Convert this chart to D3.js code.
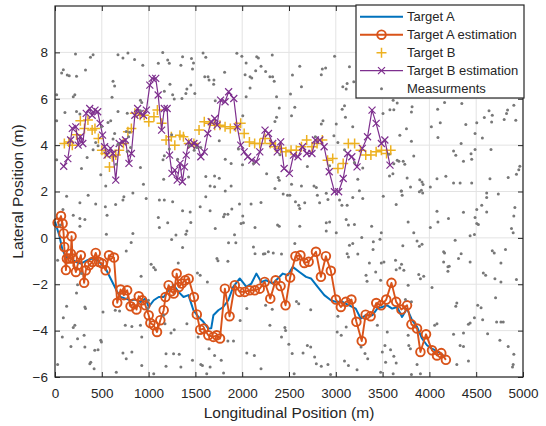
<!DOCTYPE html>
<html>
<head>
<meta charset="utf-8">
<script src="https://cdn.jsdelivr.net/npm/d3@7"></script>
<style>
body { margin: 0; background: #fff; }
text { font-family: "Liberation Sans", Arial, Helvetica, sans-serif; fill: #262626; }
</style>
</head>
<body>
<div id="chart"></div>
<script>
// chart values
var xTicks = [0, 500, 1000, 1500, 2000, 2500, 3000, 3500, 4000, 4500, 5000];
var yTicks = [-6, -4, -2, 0, 2, 4, 6, 8];
var seriesNames = ["Target A", "Target A estimation", "Target B", "Target B estimation", "Measurments"];

var targetA = [[0,0.7],[46,0.1],[81,-0.53],[117,-0.82],[170,-0.89],[223,-1.04],[276,-1.11],[347,-0.96],[400,-0.89],
  [453,-0.96],[506,-1.18],[541,-1.32],[595,-1.76],[630,-2.04],[665,-2.33],[701,-2.55],[754,-2.62],[807,-2.69],
  [860,-2.66],[913,-2.76],[966,-2.62],[1001,-2.98],[1055,-2.69],[1108,-2.55],[1161,-2.55],[1214,-2.26],[1267,-2.04],
  [1320,-2.33],[1373,-2.55],[1426,-2.47],[1479,-3.12],[1532,-3.41],[1585,-3.62],[1638,-3.91],[1669,-3.9],[1692,-3.34],
  [1745,-3.12],[1798,-2.98],[1851,-2.69],[1904,-2.11],[1974,-1.75],[2045,-2.11],[2098,-1.97],[2151,-1.54],[2204,-1.90],
  [2257,-1.83],[2328,-1.97],[2381,-1.75],[2434,-1.54],[2487,-1.61],[2540,-1.25],[2611,-1.47],[2682,-1.68],[2735,-1.75],
  [2806,-2.11],[2877,-2.47],[2948,-2.69],[3001,-2.76],[3071,-2.76],[3142,-2.91],[3213,-3.05],[3266,-3.48],[3319,-3.34],
  [3390,-3.34],[3443,-3.05],[3496,-2.98],[3549,-2.91],[3602,-3.05],[3655,-2.98],[3708,-3.41],[3761,-3.05],[3815,-3.55],
  [3868,-3.84],[3921,-4.34],[3974,-4.63],[4027,-4.78],[4098,-4.92],[4169,-5.14]];

var targetAEst = [[28,0.65],[64,0.94],[81,0.62],[92,0.19],[99,-0.39],[117,-1.39],[127,-0.89],[152,-0.89],[170,-0.68],
  [177,0.07],[188,-0.89],[223,-1.47],[241,-1.18],[276,-0.75],[311,-1.94],[329,-1.40],[364,-1.18],[400,-1.04],[435,-0.65],
  [471,-1.04],[506,-1.11],[541,-1.40],[577,-0.75],[630,-0.85],[665,-2.80],[701,-2.23],[736,-2.47],[771,-2.26],[807,-2.95],
  [842,-2.83],[871,-3.09],[895,-2.52],[931,-2.69],[966,-2.91],[1001,-3.34],[1019,-3.67],[1055,-3.77],[1090,-4.06],
  [1125,-3.55],[1161,-3.12],[1180,-2.55],[1214,-2.04],[1243,-2.30],[1269,-2.40],[1300,-1.54],[1324,-2.12],[1354,-1.97],
  [1391,-1.83],[1428,-1.76],[1484,-2.55],[1515,-3.30],[1551,-3.96],[1590,-3.91],[1638,-4.20],[1692,-4.27],[1727,-4.20],
  [1763,-4.34],[1815,-2.19],[1865,-3.38],[1921,-2.04],[1974,-2.33],[2027,-2.33],[2080,-2.26],[2134,-2.26],[2187,-2.19],
  [2240,-1.90],[2300,-2.62],[2357,-1.83],[2410,-2.08],[2463,-2.91],[2512,-1.71],[2569,-0.79],[2622,-0.75],[2664,-1.08],
  [2710,-1.03],[2788,-0.60],[2841,-1.68],[2894,-0.79],[2947,-1.42],[3001,-2.66],[3054,-2.98],[3107,-2.76],[3167,-2.66],
  [3220,-3.62],[3277,-4.45],[3319,-3.31],[3372,-3.38],[3432,-2.81],[3485,-2.91],[3539,-2.66],[3595,-1.94],[3645,-2.76],
  [3701,-3.09],[3761,-2.91],[3808,-3.73],[3868,-3.91],[3904,-4.92],[3964,-4.16],[4028,-4.85],[4081,-5.07],[4127,-4.97],
  [4176,-5.26]];

var targetB = [[100,4.07],[148,4.14],[185,4.0],[230,4.45],[271,5.05],[315,4.72],[352,5.08],[397,4.65],[427,4.72],[464,4.29],
  [501,3.78],[538,3.64],[582,3.06],[612,3.50],[649,3.57],[686,3.78],[731,4.07],[779,4.58],[816,4.72],[853,5.37],[909,5.29],
  [953,5.29],[1002,5.01],[1057,5.22],[1094,5.51],[1139,4.94],[1187,4.22],[1243,4.36],[1280,4.00],[1335,4.43],[1372,4.36],
  [1428,4.07],[1484,4.07],[1539,4.65],[1595,5.01],[1651,4.94],[1706,4.86],[1762,4.86],[1817,4.79],[1873,4.72],[1929,4.79],
  [1984,4.94],[2021,4.50],[2077,4.14],[2133,4.07],[2188,4.07],[2244,4.29],[2300,4.07],[2355,3.93],[2411,3.86],[2467,3.71],
  [2522,3.78],[2578,3.78],[2633,3.93],[2689,4.22],[2745,3.93],[2800,4.07],[2856,4.22],[2912,3.35],[2967,3.42],[3023,2.99],
  [3079,3.21],[3134,4.07],[3201,4.07],[3264,3.78],[3320,3.57],[3375,3.57],[3431,3.71],[3487,3.78],[3542,3.64],[3587,3.78]];

var targetBEst = [[93,3.09],[137,3.42],[167,4.22],[185,4.72],[222,4.79],[248,4.0],[271,4.36],[297,4.07],[334,5.37],[371,5.58],
  [397,5.29],[427,5.51],[456,5.44],[482,4.94],[508,4.43],[530,3.93],[556,3.57],[593,3.86],[619,3.64],[649,2.49],[686,4.07],
  [723,4.14],[753,4.22],[790,3.21],[816,3.64],[853,5.29],[883,5.58],[909,5.37],[946,5.29],[976,5.51],[1013,6.59],[1039,6.88],
  [1076,6.88],[1102,6.16],[1139,4.65],[1168,5.58],[1198,5.58],[1224,3.57],[1250,2.78],[1280,2.92],[1306,2.49],[1335,3.21],
  [1361,2.42],[1383,3.06],[1402,3.57],[1428,4.14],[1458,4.00],[1484,4.07],[1521,4.00],[1558,3.50],[1595,3.71],[1632,4.50],
  [1669,5.01],[1706,5.15],[1732,4.86],[1769,5.94],[1817,5.87],[1855,6.30],[1910,6.01],[1947,4.79],[1984,4.00],[2021,3.71],
  [2059,3.50],[2103,3.35],[2151,3.28],[2188,3.71],[2244,4.65],[2281,4.50],[2326,4.07],[2374,3.71],[2411,4.14],[2448,2.99],
  [2504,2.78],[2548,3.57],[2596,3.50],[2645,3.93],[2689,3.64],[2745,3.64],[2782,4.22],[2830,4.22],[2875,3.93],[2930,2.85],
  [2986,1.99],[3030,1.99],[3079,2.56],[3127,3.64],[3171,3.50],[3227,3.06],[3283,3.86],[3339,4.36],[3387,5.51],[3431,4.94],
  [3487,4.07],[3524,4.22],[3579,3.14]];

var measurements = [
  [219,7.93],[379,7.79],[407,7.90],[71,7.11],[89,7.25],[131,7.02],[152,6.99],[230,6.97],[326,7.24],[673,7.90],[726,7.76],
  [779,7.97],[850,7.69],[938,7.45],[1151,8.0],[1104,7.53],[1204,7.67],[1221,7.53],[1345,7.45],[1363,7.81],[1458,7.74],
  [1480,7.54],[1582,7.97],[1611,7.79],[620,6.75],[637,6.55],[1228,6.63],[1168,6.32],[1469,7.28],[1600,6.95],[1635,6.95],
  [1646,6.81],[1451,6.59],[1409,6.42],[1398,6.23],[1257,6.17],[18,6.17],[195,6.09],[212,6.17],[609,6.06],[913,5.94],
  [927,5.84],[106,5.41],[673,5.45],[772,5.37],[797,4.55],[761,4.59],[595,5.05],[566,4.98],[496,4.79],[18,5.05],[230,5.45],
  [266,5.34],[637,4.50],[620,4.26],[673,4.04],[435,4.11],[460,3.97],[407,3.80],[343,3.47],[18,3.37],[283,2.99],[489,2.72],
  [542,2.24],[655,3.18],[913,3.03],[945,2.31],[786,4.36],[807,3.90],[913,5.48],[1246,4.45],[1168,3.54],[1154,3.37],
  [1161,2.53],[1221,3.83],[1310,3.39],[1427,2.63],[1611,2.65],[1657,2.24],[1487,3.78],[1515,3.90],[1558,3.90],[1434,3.97],
  [1274,5.99],[1356,6.01],[1494,6.23],[772,3.73],
  [1943,7.96],[1996,7.83],[2042,7.54],[2155,7.81],[2173,7.76],[2201,7.40],[2144,7.21],[2031,7.04],[2084,6.95],[2102,6.89],
  [1812,7.14],[1698,6.81],[2250,7.18],[2296,6.95],[2325,6.95],[2342,6.75],[2321,7.89],[2615,7.40],[2537,7.02],[2633,6.52],
  [2516,6.20],[2367,6.09],[2042,6.09],[2084,6.46],[2845,7.04],[2856,7.28],[2891,7.33],[2987,7.83],[3146,7.38],[3192,6.73],
  [3075,6.52],[3111,6.42],[3121,6.66],[2396,5.60],[2367,5.20],[2350,5.02],[2562,5.63],[2527,5.27],[2006,5.27],[1755,4.19],
  [1960,3.83],[1819,3.39],[1882,3.21],[2120,3.21],[2003,3.15],[2261,2.77],[2403,3.58],[2385,2.60],[2396,2.49],[2527,2.31],
  [2350,2.13],[2633,2.24],[2767,2.24],[2792,2.17],[2696,3.08],[2863,5.05],[2845,4.91],[2781,4.36],[3005,4.91],[3022,4.11],
  [2980,4.40],[3068,5.55],[3093,5.70],[3103,5.20],[3181,4.79],[2934,3.11],[3093,3.80],[3199,3.25],[3288,3.01],[3235,2.53],
  [3252,2.03],[1705,2.67],[1755,2.57],[1882,2.24],[1705,2.20],[1712,5.91],[1695,6.63],
  [3613,5.94],[3656,5.82],[3578,5.53],[3620,5.53],[3504,5.36],[3815,5.65],[3808,5.43],[4088,5.55],[4162,5.84],[4346,5.79],
  [4116,4.97],[4021,4.79],[4389,4.89],[4506,4.97],[4587,5.19],[4637,5.48],[4672,5.29],[4665,5.00],[4799,5.10],[4824,5.36],
  [4835,5.51],[4902,5.72],[4923,5.07],[4488,4.50],[4566,4.31],[3684,4.43],[3755,4.71],[3808,4.17],[4091,4.33],[4339,4.07],
  [4488,3.81],[4445,3.63],[4452,3.39],[4258,3.75],[4282,3.56],[4364,3.30],[4658,3.81],[3656,3.35],[3674,3.30],[3720,3.30],
  [3737,3.17],[3833,3.53],[3620,3.20],[3610,2.77],[3574,2.67],[3762,2.58],[3897,2.51],[3921,2.41],[3932,2.30],[3798,2.19],
  [4010,2.19],[3914,2.05],[3702,2.02],[4081,2.55],[4176,2.66],[4258,2.37],[4328,2.37],[4452,2.37],[4647,2.55],[4842,2.60],
  [4930,2.74],[4955,2.94],[4966,3.09],[3567,3.61],
  [124,1.80],[354,1.84],[435,1.46],[266,1.51],[538,1.34],[556,0.98],[648,1.44],[726,1.63],[736,1.77],[832,1.94],[974,1.70],
  [1115,1.63],[1168,1.63],[1257,1.56],[1363,1.17],[1444,1.12],[1551,1.34],[1657,1.17],[1611,1.77],[195,0.98],[266,0.84],
  [319,0.79],[266,0.50],[53,0.55],[549,0.16],[832,0.19],[814,-0.20],[761,-0.57],[1104,0.88],[1204,0.65],[1115,0.45],
  [1246,-0.07],[1292,0.12],[1363,-0.42],[1409,0.30],[1451,0.66],[1398,0.16],[1027,-1.14],[1055,-1.28],[1073,-1.37],
  [1317,-1.08],[1522,-1.51],[1551,-1.61],[1628,-1.90],[920,-1.66],[28,-0.96],[283,-1.54],[241,-2.02],[230,-2.38],
  [124,-2.95],[89,-3.44],[319,-2.98],[326,-3.05],[513,-3.20],[644,-3.12],[690,-3.15],[751,-3.77],[821,-3.82],[913,-3.77],
  [991,-3.05],[998,-2.69],[1161,-3.34],[1175,-3.70],[1274,-3.96],[1239,-4.10],[1409,-3.70],[212,-3.77],[195,-3.87],
  [241,-4.35],[311,-4.20],[78,-4.28],[170,-4.68],[319,-4.71],[425,-4.85],[460,-4.82],[496,-4.49],[489,-4.42],[726,-4.97],
  [761,-5.21],[821,-4.92],[927,-4.28],[927,-5.50],[655,-5.79],[382,-5.36],[372,-5.43],[418,-5.64],[28,-5.46],[1055,-5.86],
  [1186,-5.00],[1267,-5.00],[1327,-5.02],[1186,-5.54],[1345,-5.57],[1469,-5.28],[1558,-5.46],[1575,-5.50],[1621,-5.86],
  [1657,-5.57],[1529,-4.28],[1646,-4.78],[85,1.22],
  [1819,2.02],[2438,1.89],[2484,1.84],[2509,1.84],[2569,1.56],[2604,1.41],[2615,1.27],[2668,1.51],[2803,1.84],[2827,1.51],
  [2898,1.92],[2916,1.66],[3040,1.63],[3065,1.41],[3121,1.41],[3181,1.74],[3288,1.70],[1971,1.46],[2095,1.46],[2201,1.53],
  [1812,1.02],[1847,1.02],[1801,0.91],[1889,1.24],[2006,0.94],[1988,0.62],[2013,0.65],[2137,0.45],[2378,0.55],[2396,0.50],
  [2615,0.50],[2898,0.65],[2934,0.69],[2898,0.30],[3005,0.22],[3111,0.79],[3135,0.55],[3199,0.58],[3277,0.02],[1712,0.40],
  [1918,0.14],[1854,-0.21],[1932,-0.21],[2120,-0.39],[2243,-0.68],[2279,-0.60],[2332,-0.65],[2420,-0.70],[2562,-0.24],
  [1730,-0.89],[1741,-0.99],[1847,-1.01],[2137,-0.68],[2226,-0.70],[3146,-0.32],[3181,-0.24],[3121,-0.68],[3235,-0.70],
  [3135,-0.82],[3323,-1.61],[3334,-1.87],[2049,-3.05],[1978,-3.56],[1847,-4.45],[1907,-4.45],[1705,-5.07],[1776,-5.28],
  [1801,-5.83],[2049,-4.97],[2130,-5.07],[2201,-5.64],[2296,-3.77],[2250,-2.91],[2321,-3.08],[2420,-4.28],[2456,-3.87],
  [2463,-3.99],[2498,-4.59],[2534,-4.99],[2555,-5.86],[2650,-4.97],[2696,-4.64],[2732,-4.71],[2774,-5.14],[2792,-5.43],
  [2916,-5.46],[2845,-5.54],[2944,-5.89],[2580,-2.74],[2604,-2.84],[2732,-3.10],[3022,-3.38],[3015,-4.06],[3058,-4.20],
  [3111,-3.84],[3093,-5.31],[3135,-5.50],[3227,-5.69],[3270,-4.71],[3312,-4.99],[3341,-5.21],[3359,-1.08],
  [3507,1.80],[3698,2.02],[3709,1.84],[3645,1.44],[3893,1.99],[3928,1.94],[4612,1.94],[4736,1.89],[4612,1.74],[4559,1.41],
  [4506,1.22],[4612,1.12],[4488,0.88],[4506,0.62],[4523,0.58],[4913,1.31],[4902,0.94],[4877,0.40],[4895,0.22],[3773,0.69],
  [4081,1.15],[4091,0.69],[4204,0.84],[4364,1.10],[4010,0.45],[3833,0.22],[3383,0.50],[3486,0.22],[4481,0.15],[4435,0.09],
  [4275,-0.10],[3401,-0.17],[3472,-0.06],[3868,-0.14],[3893,-0.36],[3921,-0.27],[3716,-0.34],[3398,-0.50],[4162,-0.65],
  [4152,-0.60],[4339,-0.68],[4311,-0.89],[4152,-1.04],[4198,-1.25],[4212,-1.22],[4198,-1.44],[4435,-1.04],[4672,-0.56],
  [4693,-0.65],[4813,-0.50],[4764,-1.08],[4576,-1.51],[4601,-1.61],[4700,-1.76],[4764,-1.90],[4930,-1.80],[3486,-1.08],
  [3514,-1.04],[3426,-1.47],[3479,-1.83],[3638,-0.96],[3645,-1.37],[3684,-1.30],[3727,-1.40],[3702,-1.14],[3886,-1.58],
  [3904,-1.76],[3939,-1.66],[3773,-2.04],[4028,-2.14],[4293,-2.81],[4282,-2.95],[4516,-2.91],[4552,-3.01],[4569,-3.53],
  [4481,-3.44],[4417,-3.73],[4435,-3.67],[4707,-2.58],[4718,-3.63],[4764,-3.63],[4789,-3.63],[4622,-4.13],[4364,-4.10],
  [4258,-4.16],[4328,-4.64],[4364,-4.68],[4753,-4.42],[4842,-4.68],[4902,-5.02],[4895,-5.46],[4888,-5.57],[4417,-5.31],
  [4293,-5.46],[3444,-3.77],[3550,-4.06],[3525,-4.64],[3497,-4.92],[3585,-4.82],[3620,-5.11],[3645,-5.40],[3532,-5.36],
  [3780,-4.64],[3797,-4.78],[3868,-5.46],[3808,-5.89],[3904,-5.86],[3613,-5.86],[3479,-5.79],[3773,-4.20],[3744,-2.66],
  [3808,-2.76],[4056,-3.77],[4081,-3.70]];

var colors = ["#0072BD", "#D95319", "#EDB120", "#7E2F8E", "#787878"];

var svgWidth = 546;
var svgHeight = 426;
var margin = { top: 6, right: 23, bottom: 49, left: 55 };
var width = svgWidth - margin.left - margin.right;
var height = svgHeight - margin.top - margin.bottom;

var svg = d3.select("#chart")
    .append("svg")
    .attr("width", svgWidth)
    .attr("height", svgHeight);

var chartGroup = svg.append("g")
    .attr("transform", `translate(${margin.left}, ${margin.top})`);

var xScale = d3.scaleLinear().domain([0, 5000]).range([0, width]);
var yScale = d3.scaleLinear().domain([-6, 10]).range([height, 0]);

// grid
chartGroup.append("g").selectAll("line.gx")
    .data(xTicks).enter().append("line")
    .attr("x1", d => xScale(d)).attr("x2", d => xScale(d))
    .attr("y1", 0).attr("y2", height)
    .attr("stroke", "#e3e3e3").attr("stroke-width", 1);
chartGroup.append("g").selectAll("line.gy")
    .data(yTicks).enter().append("line")
    .attr("x1", 0).attr("x2", width)
    .attr("y1", d => yScale(d)).attr("y2", d => yScale(d))
    .attr("stroke", "#e3e3e3").attr("stroke-width", 1);

var line = d3.line().x(d => xScale(d[0])).y(d => yScale(d[1]));

// Target A
chartGroup.append("path").datum(targetA)
    .attr("d", line).attr("fill", "none")
    .attr("stroke", colors[0]).attr("stroke-width", 2).attr("stroke-linejoin", "round");

// Target A estimation
chartGroup.append("path").datum(targetAEst)
    .attr("d", line).attr("fill", "none")
    .attr("stroke", colors[1]).attr("stroke-width", 1.9).attr("stroke-linejoin", "round");
chartGroup.append("g").selectAll("circle")
    .data(targetAEst).enter().append("circle")
    .attr("cx", d => xScale(d[0])).attr("cy", d => yScale(d[1]))
    .attr("r", 4.3).attr("fill", "none")
    .attr("stroke", colors[1]).attr("stroke-width", 1.9);

// Target B
var plusPath = "M-5,0H5M0,-5V5";
var crossPath = "M-3.5,-3.5L3.5,3.5M-3.5,3.5L3.5,-3.5";
chartGroup.append("g").selectAll("path")
    .data(targetB).enter().append("path")
    .attr("transform", d => `translate(${xScale(d[0])},${yScale(d[1])})`)
    .attr("d", plusPath).attr("stroke", colors[2]).attr("stroke-width", 1.5);

// Target B estimation
chartGroup.append("path").datum(targetBEst)
    .attr("d", line).attr("fill", "none")
    .attr("stroke", colors[3]).attr("stroke-width", 1.2);
chartGroup.append("g").selectAll("path")
    .data(targetBEst).enter().append("path")
    .attr("transform", d => `translate(${xScale(d[0])},${yScale(d[1])})`)
    .attr("d", crossPath).attr("stroke", colors[3]).attr("stroke-width", 1.2);

// Measurements
chartGroup.append("g").selectAll("circle")
    .data(measurements).enter().append("circle")
    .attr("cx", d => xScale(d[0])).attr("cy", d => yScale(d[1]))
    .attr("r", 1.5).attr("fill", colors[4]);

// axes (ticks inward, box on)
var bottomAxis = d3.axisBottom(xScale).tickValues(xTicks).tickSize(-5).tickPadding(11).tickFormat(d3.format("d"));
var topAxis = d3.axisTop(xScale).tickValues(xTicks).tickSize(-5).tickFormat("");
var leftAxis = d3.axisLeft(yScale).tickValues(yTicks).tickSize(-5).tickPadding(7).tickFormat(d3.format("d"));
var rightAxis = d3.axisRight(yScale).tickValues(yTicks).tickSize(-5).tickFormat("");

var axes = [
    chartGroup.append("g").attr("transform", `translate(0, ${height})`).call(bottomAxis),
    chartGroup.append("g").call(topAxis),
    chartGroup.append("g").call(leftAxis),
    chartGroup.append("g").attr("transform", `translate(${width}, 0)`).call(rightAxis)
];
axes.forEach(a => {
    a.select(".domain").remove();
    a.selectAll("line").attr("stroke", "#262626");
    a.selectAll("text").attr("font-size", 13.5).attr("fill", "#262626")
        .style("font-family", "'Liberation Sans', Arial, sans-serif");
});

chartGroup.append("rect")
    .attr("x", 0).attr("y", 0).attr("width", width).attr("height", height)
    .attr("fill", "none").attr("stroke", "#262626").attr("stroke-width", 1.2);

// axis labels
chartGroup.append("text")
    .attr("transform", `translate(${width / 2}, ${height + 41})`)
    .attr("text-anchor", "middle").attr("font-size", 15.5)
    .text("Longitudinal Position (m)");
chartGroup.append("text")
    .attr("transform", `translate(-32, ${height / 2}) rotate(-90)`)
    .attr("text-anchor", "middle").attr("font-size", 15.5)
    .text("Lateral Position (m)");

// legend
var legend = svg.append("g").attr("transform", "translate(356, 5)");
legend.append("rect")
    .attr("x", 0).attr("y", 0).attr("width", 168).attr("height", 93)
    .attr("fill", "#fff").attr("stroke", "#262626").attr("stroke-width", 1.2);

seriesNames.forEach((name, i) => {
    var row = legend.append("g").attr("transform", `translate(0, ${11.7 + i * 18})`);
    if (i === 0 || i === 1 || i === 3) {
        row.append("line").attr("x1", 4).attr("x2", 47).attr("y1", 0).attr("y2", 0)
            .attr("stroke", colors[i]).attr("stroke-width", i === 3 ? 1.2 : (i === 0 ? 2 : 1.9));
    }
    if (i === 1) {
        row.append("circle").attr("cx", 25.5).attr("cy", 0).attr("r", 4.3)
            .attr("fill", "none").attr("stroke", colors[1]).attr("stroke-width", 1.9);
    }
    if (i === 2) {
        row.append("path").attr("transform", "translate(25.5,0)").attr("d", plusPath)
            .attr("stroke", colors[2]).attr("stroke-width", 1.5);
    }
    if (i === 3) {
        row.append("path").attr("transform", "translate(25.5,0)").attr("d", crossPath)
            .attr("stroke", colors[3]).attr("stroke-width", 1.2);
    }
    if (i === 4) {
        row.append("circle").attr("cx", 25.5).attr("cy", 0).attr("r", 1.5).attr("fill", colors[4]);
    }
    row.append("text").attr("x", 51).attr("y", 0).attr("dy", "0.35em")
        .attr("font-size", 13).text(name);
});
</script>
</body>
</html>
